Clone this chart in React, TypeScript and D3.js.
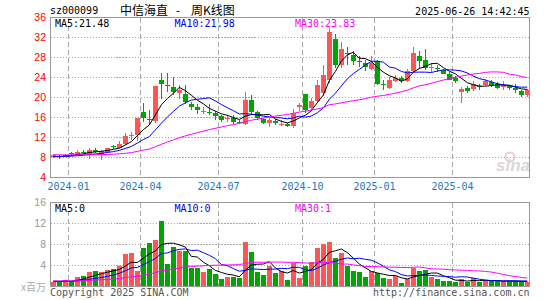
import * as d3 from 'd3';

// weekly candles, Dec 2023 .. Jun 2025
const open = [8.1, 8.4, 8.2, 9.0, 8.5, 9.2, 8.7, 9.6, 8.6, 9.1, 10.3, 10.0, 10.7, 12.4, 12.5, 17.1, 15.8, 15.3, 23.5, 22.6,
  22.1, 20.9, 20.8, 18.8, 18.1, 17.2, 17.2, 16.9, 16.3, 15.8, 16.0, 15.2, 14.8, 19.5, 17.1, 15.7, 14.9, 15.4, 14.6, 14.8,
  14.3, 18.2, 20.7, 17.9, 19.4, 21.0, 23.5, 31.7, 26.6, 29.0, 28.6, 27.3, 26.9, 25.8, 27.3, 22.7, 22.0, 23.4, 24.0, 23.3,
  25.4, 28.3, 27.5, 25.9, 25.9, 25.5, 24.7, 24.0, 21.2, 22.0, 21.7, 22.4, 22.6, 23.1, 22.8, 22.1, 22.4, 22.0, 21.3, 20.5];
const high = [8.7, 8.5, 8.8, 9.1, 9.5, 9.6, 9.9, 9.9, 9.6, 10.0, 10.5, 11.3, 13.0, 13.2, 16.0, 18.9, 17.5, 22.3, 25.0, 24.9,
  24.1, 22.5, 22.5, 19.1, 18.8, 18.1, 18.8, 17.3, 16.5, 16.5, 16.5, 15.6, 21.1, 20.5, 17.3, 16.0, 16.0, 15.7, 15.5, 15.0,
  17.8, 18.9, 20.7, 19.9, 23.5, 26.5, 33.9, 32.7, 31.2, 30.1, 29.3, 28.3, 27.5, 28.4, 27.5, 23.5, 24.1, 24.5, 24.3, 25.8,
  30.1, 29.3, 29.7, 26.9, 26.5, 25.8, 25.1, 24.3, 22.1, 22.3, 23.3, 22.8, 23.8, 23.6, 23.1, 23.3, 22.6, 22.8, 21.6, 21.8];
const low = [7.9, 7.8, 8.1, 8.6, 8.4, 8.8, 7.7, 8.9, 7.5, 9.0, 9.7, 9.9, 10.5, 11.5, 11.3, 15.1, 14.5, 14.9, 19.8, 21.1,
  20.5, 19.8, 18.8, 17.5, 16.7, 16.7, 16.5, 15.6, 15.1, 15.1, 14.8, 14.7, 14.6, 16.8, 15.5, 14.8, 14.1, 14.5, 14.3, 14.1,
  13.9, 17.3, 16.9, 17.3, 19.0, 20.3, 23.0, 25.9, 26.0, 26.6, 26.5, 26.1, 25.3, 25.6, 22.5, 21.6, 21.8, 23.1, 23.0, 23.1,
  25.1, 25.7, 25.6, 25.1, 25.1, 24.7, 23.5, 23.0, 19.0, 20.9, 21.4, 21.6, 22.3, 22.2, 21.8, 21.5, 21.6, 20.9, 20.2, 20.2];
const close = [8.5, 8.2, 8.6, 8.7, 9.1, 9.0, 9.6, 9.2, 9.3, 9.9, 10.1, 10.8, 12.4, 12.6, 16.0, 16.0, 15.5, 22.3, 22.8, 22.4,
  21.1, 21.5, 19.1, 18.2, 17.5, 17.4, 17.0, 16.3, 15.5, 16.0, 15.2, 15.0, 19.6, 17.1, 16.0, 15.0, 15.5, 14.9, 14.8, 14.4,
  16.9, 18.6, 17.5, 19.3, 22.5, 24.5, 33.1, 26.5, 29.7, 28.7, 27.3, 27.1, 26.1, 26.9, 22.8, 22.5, 23.5, 24.0, 23.4, 25.3,
  29.0, 27.3, 26.0, 26.2, 25.7, 24.8, 23.6, 23.4, 21.8, 21.3, 22.7, 22.2, 23.3, 22.5, 22.0, 22.5, 22.0, 21.5, 20.6, 21.5];
// volume, x百万
const volume = [0.9, 0.8, 1.3, 1.0, 1.9, 2.0, 2.7, 2.9, 2.7, 3.2, 3.4, 4.0, 6.1, 6.4, 2.9, 7.4, 8.3, 8.8, 12.4, 4.2,
  7.6, 6.7, 6.7, 3.5, 3.6, 2.7, 3.3, 2.3, 1.5, 1.9, 1.9, 1.7, 8.4, 6.5, 2.7, 2.1, 4.0, 2.5, 2.9, 1.3,
  4.5, 1.6, 4.0, 4.6, 7.4, 8.1, 8.4, 5.5, 6.3, 4.0, 2.9, 2.7, 1.9, 2.9, 2.5, 1.7, 1.5, 2.0, 0.6, 1.4,
  3.6, 2.9, 3.1, 1.8, 1.4, 1.1, 1.0, 0.8, 1.5, 0.8, 1.6, 0.8, 1.3, 1.0, 1.0, 1.0, 1.0, 1.0, 1.0, 0.8];
// weeks before the window, only used to warm up the moving averages
const prevCloses = [8.9, 9.1, 9.0, 8.8, 8.7, 9.0, 9.2, 8.9, 8.8, 8.6, 8.7, 8.9, 8.8, 8.6, 8.5, 8.7, 8.6, 8.4, 8.5, 8.3,
  8.4, 8.2, 8.3, 8.1, 8.2, 8.0, 8.1, 8.2, 8.0];
const prevVolumes = [1.3, 1.1, 1.2, 1.0, 1.4, 1.2, 1.1, 1.0, 1.3, 1.2, 1.0, 1.1, 1.2, 1.0, 0.9, 1.1, 1.2, 1.0, 1.1, 1.0,
  0.9, 1.1, 1.0, 1.2, 1.0, 0.9, 1.0, 1.1, 0.9];

const monthLabels = ['2024-01', '2024-04', '2024-07', '2024-10', '2025-01', '2025-04'];
const monthIndex = [3, 15, 28, 42, 54, 67];
const priceTicks = [4, 8, 12, 16, 20, 24, 28, 32, 36];
const volTicks = [4, 8, 12, 16];

const RED = '#ff5555';
const GREEN = '#00a600';
const MONO = '"DejaVu Sans Mono", monospace';
const SANS = '"Liberation Sans", Arial, sans-serif';
const CJK = '"Noto Sans CJK SC", sans-serif';

function movingAvg(values: number[], prev: number[], n: number) {
  const all = prev.concat(values);
  return values.map((_, i) => {
    const end = prev.length + i + 1;
    return d3.mean(all.slice(Math.max(0, end - n), end)) as number;
  });
}

export default function App() {
  const left = 50.5, right = 529.5;
  const slot = d3.scaleLinear().domain([0, 80]).range([51, 531]);
  const y = d3.scaleLinear().domain([4, 36]).range([177.5, 17.5]);
  const yv = d3.scaleLinear().domain([0, 16]).range([286.5, 202.5]);
  const cx = (i: number) => Math.round(slot(i) + 2) + 0.5;
  const bw = 4.6;

  const idx = close.map((_, i) => i);
  const line = d3.line<number>().x((_, i) => slot(i) + 2.3);
  const ma = [5, 10, 30].map(n => movingAvg(close, prevCloses, n));
  const vma = [5, 10, 30].map(n => movingAvg(volume, prevVolumes, n));
  const maColors = ['#000000', '#0000ff', '#ff00ff'];

  const up = (i: number) => close[i] >= open[i];

  return (
    <svg width={545} height={300} style={{ position: 'absolute', left: 0, top: 0, background: '#fff' }}>
      <defs>
        <clipPath id="priceClip"><rect x={left} y={17.5} width={right - left} height={160} /></clipPath>
        <clipPath id="volClip"><rect x={left} y={202.5} width={right - left} height={84} /></clipPath>
      </defs>

      {/* header */}
      <text x={50} y={14} fontFamily={MONO} fontSize={10}>sz000099</text>
      <text y={14.5} fontFamily={CJK} fontSize={12}>
        <tspan x={120}>中信海直</tspan>
        <tspan x={176}>-</tspan>
        <tspan x={191}>周K线图</tspan>
      </text>
      <text x={529.5} y={14.5} fontFamily={MONO} fontSize={10} textAnchor="end">2025-06-26 14:42:45</text>

      {/* grid */}
      <g shapeRendering="crispEdges">
        {priceTicks.slice(1, -1).map(t => (
          <line key={t} x1={left} x2={right} y1={y(t)} y2={y(t)} stroke="#aaa" strokeDasharray="1.5,1.5" />
        ))}
        {volTicks.slice(0, -1).map(t => (
          <line key={t} x1={left} x2={right} y1={yv(t)} y2={yv(t)} stroke="#aaa" strokeDasharray="1.5,1.5" />
        ))}
        {monthIndex.map(m => (
          <g key={m}>
            <line x1={slot(m) - 0.5} x2={slot(m) - 0.5} y1={17.5} y2={177.5} stroke="#aaa" strokeDasharray="5,3" />
            <line x1={slot(m) - 0.5} x2={slot(m) - 0.5} y1={202.5} y2={286.5} stroke="#aaa" strokeDasharray="5,3" />
          </g>
        ))}
      </g>

      {/* sina watermark */}
      <g opacity={0.55}>
        <circle cx={510} cy={157} r={4.5} fill="none" stroke="#f2a0a0" strokeWidth={2} />
        <text x={496} y={171} fontFamily={SANS} fontSize={17} fontStyle="italic" fontWeight="bold" fill="#b8b8b8">sina</text>
      </g>

      {/* candles */}
      <g clipPath="url(#priceClip)" shapeRendering="crispEdges">
        {idx.map(i => {
          const c = up(i) ? RED : GREEN;
          const top = y(Math.max(open[i], close[i]));
          const h = Math.max(1, Math.abs(y(open[i]) - y(close[i])));
          return (
            <g key={i}>
              <line x1={cx(i)} x2={cx(i)} y1={y(high[i])} y2={y(low[i])} stroke={c} />
              <rect x={slot(i)} y={top} width={bw} height={h} fill={c} />
            </g>
          );
        })}
      </g>
      <g clipPath="url(#priceClip)" fill="none">
        {ma.map((s, k) => (
          <path key={k} d={line.y(v => y(v))(s) || ''} stroke={maColors[k]} strokeWidth={1} />
        ))}
      </g>

      {/* volume */}
      <g clipPath="url(#volClip)" shapeRendering="crispEdges">
        {idx.map(i => (
          <rect key={i} x={slot(i)} y={yv(volume[i])} width={bw} height={yv(0) - yv(volume[i])}
            fill={up(i) ? RED : GREEN} />
        ))}
      </g>
      <g clipPath="url(#volClip)" fill="none">
        {vma.map((s, k) => (
          <path key={k} d={line.y(v => yv(v))(s) || ''} stroke={maColors[k]} strokeWidth={1} />
        ))}
      </g>

      {/* frames */}
      <rect x={left} y={17.5} width={right - left} height={160} fill="none" stroke="#999" shapeRendering="crispEdges" />
      <rect x={left} y={202.5} width={right - left} height={84} fill="none" stroke="#999" shapeRendering="crispEdges" />

      {/* axis labels */}
      {priceTicks.map(t => (
        <text key={t} x={46} y={y(t) + 3.5} textAnchor="end" fontFamily={SANS} fontSize={10.5} fill="#ff0000">{t}</text>
      ))}
      {volTicks.map(t => (
        <text key={t} x={46} y={yv(t) + 3.5} textAnchor="end" fontFamily={SANS} fontSize={10.5} fill="#999">{t}</text>
      ))}
      <text x={46} y={291} textAnchor="end" fontFamily={CJK} fontSize={10} fill="#aaa">x百万</text>
      {monthIndex.map((m, k) => (
        <text key={m} x={slot(m) - 0.5} y={190} textAnchor="middle" fontFamily={MONO} fontSize={10} fill="#1878c8">
          {monthLabels[k]}
        </text>
      ))}

      {/* MA legends */}
      <text x={55} y={26.5} fontFamily={MONO} fontSize={10} fill="#000">MA5:21.48</text>
      <text x={174.5} y={26.5} fontFamily={MONO} fontSize={10} fill="#0000ff">MA10:21.98</text>
      <text x={295} y={26.5} fontFamily={MONO} fontSize={10} fill="#ff00ff">MA30:23.83</text>
      <text x={55} y={211.5} fontFamily={MONO} fontSize={10} fill="#000">MA5:0</text>
      <text x={174.5} y={211.5} fontFamily={MONO} fontSize={10} fill="#0000ff">MA10:0</text>
      <text x={295} y={211.5} fontFamily={MONO} fontSize={10} fill="#ff00ff">MA30:1</text>

      {/* footer */}
      <text x={50} y={296} fontFamily={MONO} fontSize={10} fill="#555">Copyright 2025 SINA.COM</text>
      <text x={529.5} y={296} textAnchor="end" fontFamily={MONO} fontSize={10} fill="#555">http://finance.sina.com.cn</text>
    </svg>
  );
}
